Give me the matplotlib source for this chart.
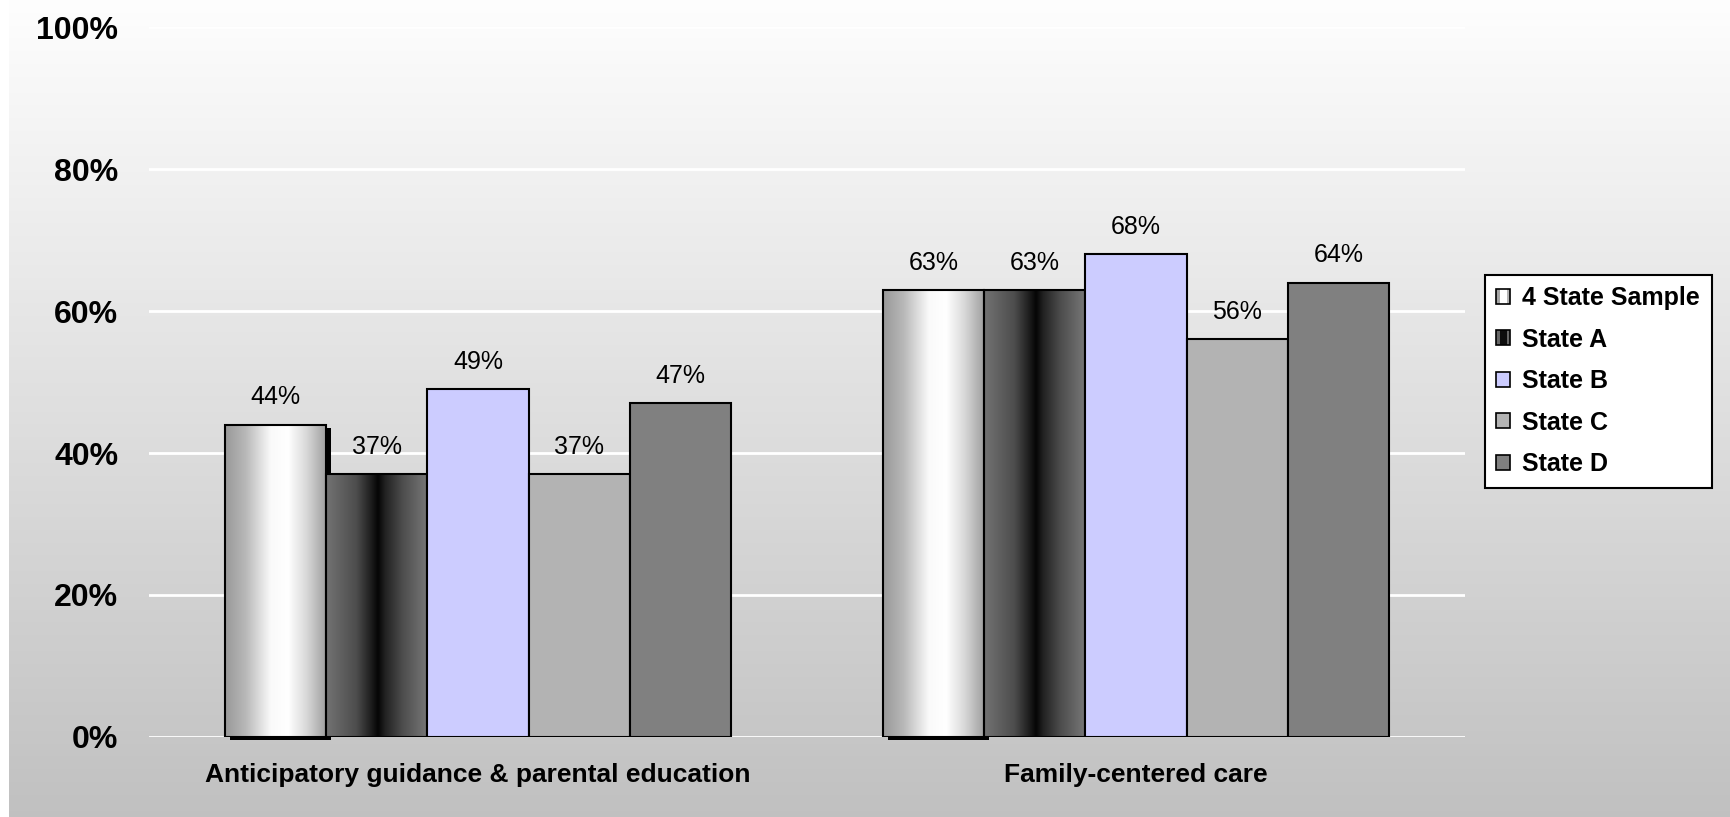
import matplotlib
matplotlib.use("Agg")
import matplotlib.pyplot as plt
import numpy as np
from matplotlib.patches import Rectangle
from matplotlib.legend_handler import HandlerBase

plt.rcParams["font.family"] = ["Liberation Sans", "DejaVu Sans"]

# data
categories = ["Anticipatory guidance & parental education", "Family-centered care"]
series_names = ["4 State Sample", "State A", "State B", "State C", "State D"]
sample_4state = [44, 63]
state_a = [37, 63]
state_b = [49, 68]
state_c = [37, 56]
state_d = [47, 64]
y_ticks = [0, 20, 40, 60, 80, 100]
y_tick_labels = ["0%", "20%", "40%", "60%", "80%", "100%"]

series = [sample_4state, state_a, state_b, state_c, state_d]
flat_colors = ["none", "none", "#ccccff", "#b3b3b3", "#808080"]

# horizontal gradient profiles (position, gray level) for the shaded series
gradients = {
    0: ([0.0, 0.2, 0.45, 0.62, 0.8, 1.0], [0.60, 0.72, 0.98, 1.0, 0.85, 0.62]),
    1: ([0.0, 0.3, 0.44, 0.51, 0.58, 0.75, 1.0], [0.45, 0.30, 0.12, 0.02, 0.13, 0.30, 0.47]),
}

W, H = 1730, 817
fig = plt.figure(figsize=(W / 100, H / 100), dpi=100)
fig.patch.set_facecolor("white")

# background gradient panel
bg = fig.add_axes([9 / W, 0, 1 - 9 / W, 1], zorder=-10)
grad = np.linspace(0.995, 0.755, 256).reshape(-1, 1)
bg.imshow(np.dstack([grad, grad, grad]), aspect="auto", extent=(0, 1, 0, 1))
bg.set_axis_off()

ax = fig.add_axes([149 / W, 1 - 737 / H, (1465 - 149) / W, (737 - 27) / H])
ax.patch.set_alpha(0)

n = len(series)
width = 1 / 6.5
x = np.arange(len(categories))

for i, (vals, fc) in enumerate(zip(series, flat_colors)):
    pos = x + (i - (n - 1) / 2) * width
    if i == 0:
        # drop shadow for the 4 state sample bars
        dx = 5 / (1465 - 149) * 2
        dy = 3 / 710 * 100
        ax.bar(pos + dx, vals, width, bottom=-dy, color="black", zorder=2,
               clip_on=False)
    bars = ax.bar(pos, vals, width, facecolor=fc, edgecolor="black",
                  linewidth=1.5, zorder=4, label=series_names[i])
    if i in gradients:
        xs, gs = gradients[i]
        prof = np.interp(np.linspace(0, 1, 200), xs, gs).reshape(1, -1)
        img = np.dstack([prof, prof, prof])
        for b in bars:
            im = ax.imshow(img, aspect="auto", zorder=3,
                           extent=(b.get_x(), b.get_x() + b.get_width(), 0, b.get_height()))
            im.set_clip_path(b)
    for xp, v in zip(pos, vals):
        ax.annotate(f"{v}%", (xp, v), xytext=(0, 14.5), textcoords="offset points",
                    ha="center", va="baseline", fontsize=18, zorder=6)

ax.set_xlim(-0.5, 1.5)
ax.set_ylim(0, 100)
ax.set_yticks(y_ticks)
ax.set_yticklabels(y_tick_labels, fontsize=23, fontweight="bold")
ax.set_xticks(x)
ax.set_xticklabels(categories, fontsize=19, fontweight="bold")
ax.tick_params(axis="y", length=0, pad=22)
ax.tick_params(axis="x", length=0, pad=19)
for s in ax.spines.values():
    s.set_visible(False)
for t in y_ticks:
    ax.axhline(t, color="white", linewidth=2, zorder=1)


class StripeHandler(HandlerBase):
    def __init__(self, levels):
        super().__init__()
        self.levels = levels

    def create_artists(self, legend, orig_handle, xdescent, ydescent, width,
                       height, fontsize, trans):
        arts = []
        n_s = len(self.levels)
        for k, g in enumerate(self.levels):
            arts.append(Rectangle((-xdescent + k * width / n_s, -ydescent), width / n_s,
                                  height, facecolor=(g, g, g), edgecolor="none",
                                  transform=trans))
        arts.append(Rectangle((-xdescent, -ydescent), width, height, facecolor="none",
                              edgecolor="black", linewidth=1.2, transform=trans))
        return arts


handles, labels = ax.get_legend_handles_labels()
leg = ax.legend(handles, labels, loc="upper left",
                bbox_to_anchor=(1485 / W, 1 - 275 / H), bbox_transform=fig.transFigure,
                prop={"size": 18, "weight": "bold"}, frameon=True, fancybox=False,
                edgecolor="black", framealpha=1, borderaxespad=0, borderpad=0.45,
                handlelength=0.55, handleheight=0.55, handletextpad=0.5,
                labelspacing=0.7,
                handler_map={handles[0]: StripeHandler([0.65, 1.0, 1.0, 0.7]),
                             handles[1]: StripeHandler([0.4, 0.05, 0.05, 0.4])})
leg.get_frame().set_linewidth(1.5)
for h in leg.legend_handles[2:]:
    h.set_linewidth(1.2)

fig.savefig("out.png", dpi=100)
